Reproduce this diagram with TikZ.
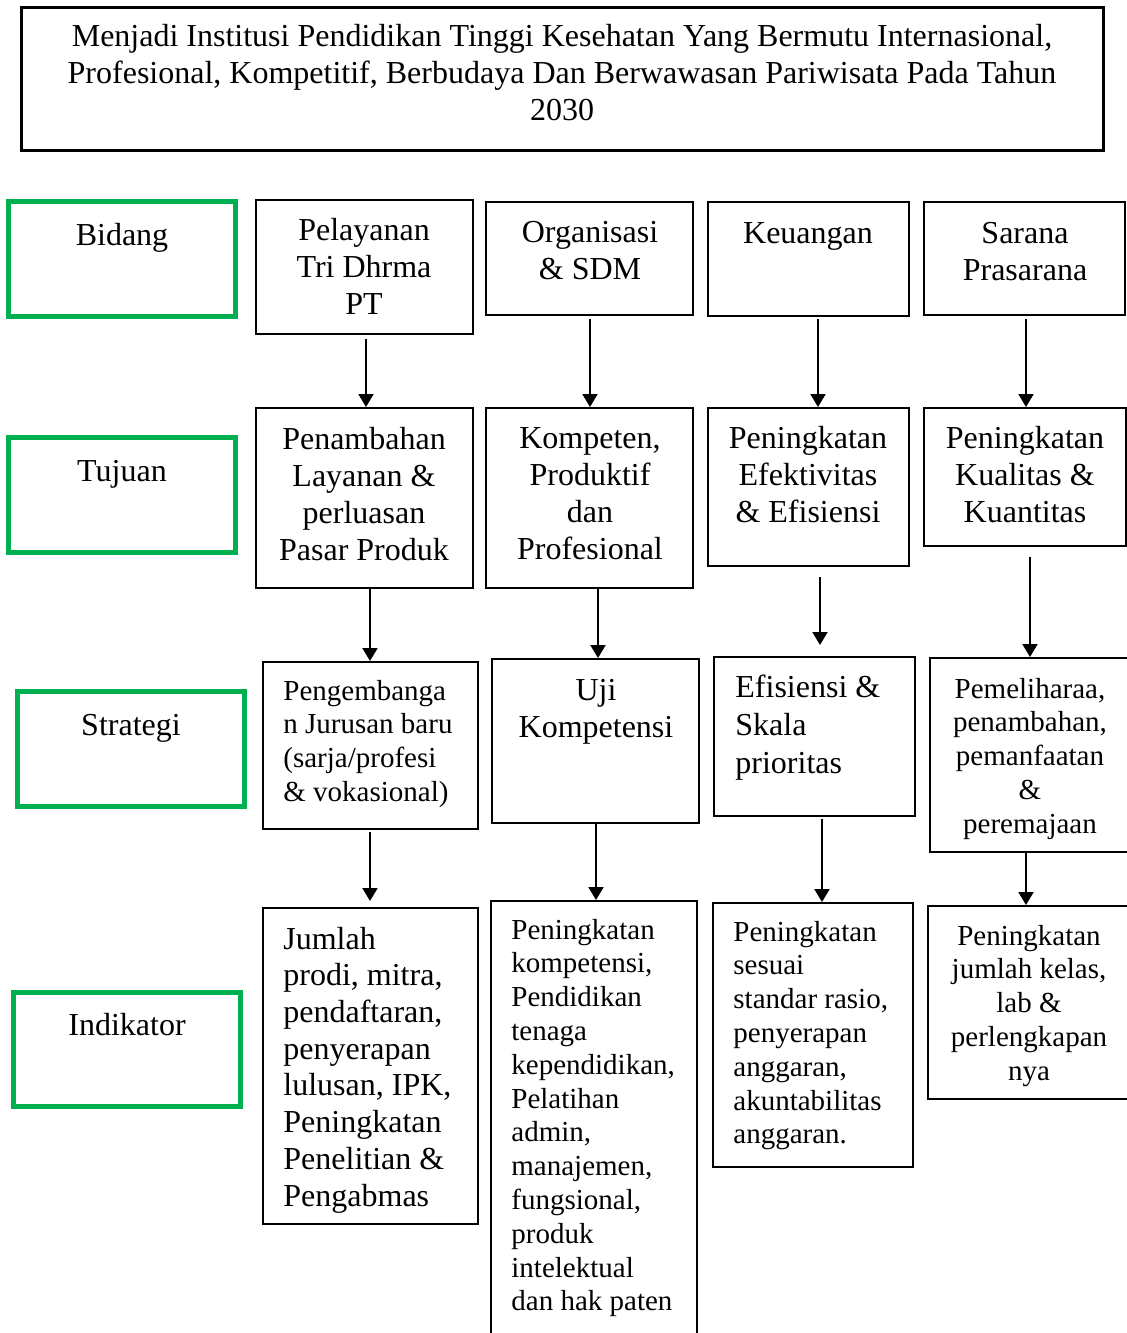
\documentclass[tikz,border=0pt]{standalone}
\usepackage{fontspec}
\setmainfont{Liberation Serif}
\usetikzlibrary{fit,calc,arrows.meta}
\definecolor{grn}{HTML}{00B050}
\tikzset{
 bbox/.style={draw=black, line width=1pt, inner sep=0pt},
 gbox/.style={draw=grn, line width=2.5pt, inner sep=0pt},
 tbox/.style={draw=black, line width=1.5pt, inner sep=0pt},
 bigc/.style={font=\fontsize{16}{18.5}\selectfont, inner sep=0pt, align=center, anchor=north},
 smallc/.style={font=\fontsize{14.5}{16.9}\selectfont, inner sep=0pt, align=center, anchor=north},
 bigl/.style={font=\fontsize{16}{18.35}\selectfont, inner sep=0pt, align=left, anchor=north west},
 smalll/.style={font=\fontsize{14.5}{16.9}\selectfont, inner sep=0pt, align=left, anchor=north west},
 arr/.style={line width=1pt, -{Triangle[length=6.5pt,width=7.5pt]}},
}
\begin{document}
\begin{tikzpicture}[x=0.5pt,y=-0.5pt]
\useasboundingbox[fill=white] (0,0) rectangle (1127,1333);
% title
\node[tbox, fit={(21,7) (1103,150)}] (title) {};
\node[bigc] (titlet) at (562,20) {\strut Menjadi Institusi Pendidikan Tinggi Kesehatan Yang Bermutu Internasional,\\Profesional, Kompetitif, Berbudaya Dan Berwawasan Pariwisata Pada Tahun\\2030};
% green labels
\node[gbox, fit={(8.5,201.5) (235.5,316)}] (gb) {};
\node[bigc] (gbt) at (122,219) {\strut Bidang};
\node[gbox, fit={(8.5,437.5) (235.5,552)}] (gt) {};
\node[bigc] (gtt) at (122,455) {\strut Tujuan};
\node[gbox, fit={(17.5,691.5) (244.5,806)}] (gs) {};
\node[bigc] (gst) at (131,709) {\strut Strategi};
\node[gbox, fit={(13.5,992.5) (240.5,1106)}] (gi) {};
\node[bigc] (git) at (127,1009) {\strut Indikator};
% row 1
\node[bbox, fit={(256,200) (473,334)}] (a1) {};
\node[bigc] (a1t) at (364,214) {\strut Pelayanan\\Tri Dhrma\\PT};
\node[bbox, fit={(486,202) (693,315)}] (a2) {};
\node[bigc] (a2t) at (590,216) {\strut Organisasi\\\& SDM};
\node[bbox, fit={(708,202) (909,316)}] (a3) {};
\node[bigc] (a3t) at (808,217) {\strut Keuangan};
\node[bbox, fit={(924,202) (1125,315)}] (a4) {};
\node[bigc] (a4t) at (1025,217) {\strut Sarana\\Prasarana};
% row 2
\node[bbox, fit={(256,408) (473,588)}] (b1) {};
\node[bigc] (b1t) at (364,423) {\strut Penambahan\\Layanan \&\\perluasan\\Pasar Produk};
\node[bbox, fit={(486,408) (693,588)}] (b2) {};
\node[bigc] (b2t) at (590,422) {\strut Kompeten,\\Produktif\\dan\\Profesional};
\node[bbox, fit={(708,408) (909,566)}] (b3) {};
\node[bigc] (b3t) at (808,422) {\strut Peningkatan\\Efektivitas\\\& Efisiensi};
\node[bbox, fit={(924,408) (1126,546)}] (b4) {};
\node[bigc] (b4t) at (1025,422) {\strut Peningkatan\\Kualitas \&\\Kuantitas};
% row 3
\node[bbox, fit={(263,662) (478,829)}] (c1) {};
\node[smalll] (c1t) at (283,676) {\strut Pengembanga\\n Jurusan baru\\(sarja/profesi\\\& vokasional)};
\node[bbox, fit={(492,659) (699,823)}] (c2) {};
\node[bigc] (c2t) at (596,674) {\strut Uji\\Kompetensi};
\node[bbox, fit={(714,657) (915,816)}] (c3) {};
\node[bigl, font=\fontsize{16}{18.9}\selectfont] (c3t) at (735,671) {\strut Efisiensi \&\\Skala\\prioritas};
\node[bbox, fit={(930,658) (1134,852)}] (c4) {};
\node[smallc] (c4t) at (1030,674) {\strut Pemeliharaa,\\penambahan,\\pemanfaatan\\\&\\peremajaan};
% row 4
\node[bbox, fit={(263,908) (478,1224)}] (d1) {};
\node[bigl] (d1t) at (283,923) {\strut Jumlah\\prodi, mitra,\\pendaftaran,\\penyerapan\\lulusan, IPK,\\Peningkatan\\Penelitian \&\\Pengabmas};
\node[bbox, fit={(491,901) (697,1345)}] (d2) {};
\node[smalll] (d2t) at (511,915) {\strut Peningkatan\\kompetensi,\\Pendidikan\\tenaga\\kependidikan,\\Pelatihan\\admin,\\manajemen,\\fungsional,\\produk\\intelektual\\dan hak paten};
\node[bbox, fit={(713,903) (913,1167)}] (d3) {};
\node[smalll] (d3t) at (733,917) {\strut Peningkatan\\sesuai\\standar rasio,\\penyerapan\\anggaran,\\akuntabilitas\\anggaran.};
\node[bbox, fit={(928,906) (1134,1099)}] (d4) {};
\node[smallc] (d4t) at (1029,921) {\strut Peningkatan\\jumlah kelas,\\lab \&\\perlengkapan\\nya};
% arrow x positions
\coordinate (x11) at (366,0);
\coordinate (x12) at (370,0);
\coordinate (x13) at (370,0);
\coordinate (x21) at (590,0);
\coordinate (x22) at (598,0);
\coordinate (x23) at (596,0);
\coordinate (x31) at (818,0);
\coordinate (x32) at (820,0);
\coordinate (x33) at (822,0);
\coordinate (x41) at (1026,0);
\coordinate (x42) at (1030,0);
\coordinate (x43) at (1026,0);
% arrows
\draw[arr] ($(a1.south -| x11)+(0,4)$) -- (b1.north -| x11);
\draw[arr] ($(a2.south -| x21)+(0,3)$) -- (b2.north -| x21);
\draw[arr] ($(a3.south -| x31)+(0,2)$) -- (b3.north -| x31);
\draw[arr] ($(a4.south -| x41)+(0,3)$) -- (b4.north -| x41);
\draw[arr] (b1.south -| x12) -- (c1.north -| x12);
\draw[arr] (b2.south -| x22) -- (c2.north -| x22);
\draw[arr] ($(b3.south -| x32)+(0,10)$) -- ($(c3.north -| x32)+(0,-11)$);
\draw[arr] ($(b4.south -| x42)+(0,10)$) -- (c4.north -| x42);
\draw[arr] ($(c1.south -| x13)+(0,2)$) -- ($(d1.north -| x13)+(0,-6)$);
\draw[arr] (c2.south -| x23) -- (d2.north -| x23);
\draw[arr] ($(c3.south -| x33)+(0,2)$) -- (d3.north -| x33);
\draw[arr] (c4.south -| x43) -- (d4.north -| x43);
\end{tikzpicture}
\end{document}
